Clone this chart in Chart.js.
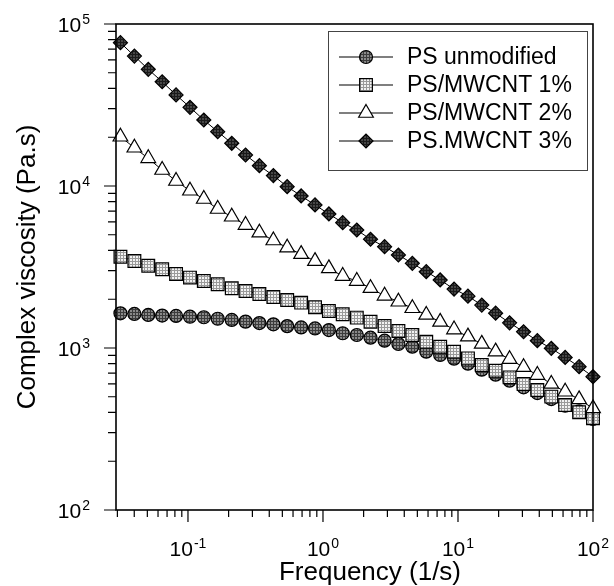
<!DOCTYPE html>
<html>
<head>
<meta charset="utf-8">
<script src="https://cdn.jsdelivr.net/npm/chart.js@4/dist/chart.umd.min.js"></script>
<style>
    html, body { margin: 0; padding: 0; background: #fff; }
    canvas { display: block; }
</style>
</head>
<body>
<canvas id="chart" width="614" height="586"></canvas>
<script>
// ============================================
// Data
// ============================================

const frequency = [
    0.0316, 0.0401, 0.0508, 0.0644, 0.0816, 0.1035, 0.131, 0.166, 0.211, 0.267,
    0.338, 0.429, 0.543, 0.689, 0.873, 1.106, 1.40, 1.78, 2.25, 2.86,
    3.62, 4.59, 5.82, 7.38, 9.35, 11.85, 15.0, 19.0, 24.1, 30.6,
    38.7, 49.1, 62.2, 78.9, 100
];

const psUnmodified = [
    1637, 1622, 1600, 1585, 1577, 1560, 1548, 1515, 1490, 1455,
    1425, 1400, 1365, 1340, 1320, 1290, 1233, 1203, 1158, 1110,
    1059, 1019, 949, 905, 860, 800, 735, 685, 629, 572,
    527, 484, 440, 406, 365
];

const psMwcnt1 = [
    3660, 3445, 3220, 3060, 2860, 2720, 2590, 2475, 2340, 2250,
    2155, 2065, 1980, 1905, 1785, 1692, 1615, 1540, 1453, 1368,
    1274, 1203, 1094, 1019, 949, 863, 785, 724, 659, 600,
    551, 501, 445, 401, 368
];

const psMwcnt2 = [
    20140, 17220, 14820, 12550, 10740, 9350, 8310, 7210, 6460, 5740,
    5150, 4610, 4160, 3800, 3440, 3100, 2780, 2590, 2340, 2100,
    1930, 1760, 1600, 1450, 1300, 1175, 1060, 950, 853, 761,
    681, 600, 537, 482, 424
];

const psMwcnt3 = [
    76700, 63400, 52500, 44000, 36500, 30600, 25560, 21650, 18350, 15540,
    13350, 11590, 9910, 8680, 7640, 6720, 5940, 5350, 4690, 4220,
    3750, 3330, 2960, 2630, 2310, 2090, 1840, 1640, 1430, 1260,
    1110, 995, 875, 767, 665
];

const seriesLabels = ['PS unmodified', 'PS/MWCNT 1%', 'PS/MWCNT 2%', 'PS.MWCNT 3%'];
const xTickExponents = [-1, 0, 1, 2];
const yTickExponents = [2, 3, 4, 5];

const xTitle = 'Frequency (1/s)';
const yTitle = 'Complex viscosity (Pa.s)';

// ============================================
// Marker fills (hatched like the printed figure)
// ============================================

const canvas = document.getElementById('chart');
const ctx = canvas.getContext('2d');
const FONT = '"Liberation Sans", Arial, Helvetica, sans-serif';

function hatch(bg, fg) {
    const tile = document.createElement('canvas');
    tile.width = 3;
    tile.height = 3;
    const g = tile.getContext('2d');
    g.fillStyle = bg;
    g.fillRect(0, 0, 3, 3);
    g.fillStyle = fg;
    g.fillRect(0, 0, 3, 1);
    g.fillRect(0, 0, 1, 3);
    return ctx.createPattern(tile, 'repeat');
}

const markers = [
    { style: 'circle',   radius: 6.5, fill: hatch('#8a8a8a', '#3c3c3c') },
    { style: 'rect',     radius: 9,   fill: hatch('#f2f2f2', '#9a9a9a') },
    { style: 'triangle', radius: 8.5, fill: '#ffffff' },
    { style: 'rectRot',  radius: 7,   fill: hatch('#474747', '#1a1a1a') }
];

function toPoints(values) {
    return values.map((v, i) => ({ x: frequency[i], y: v }));
}

const seriesValues = [psUnmodified, psMwcnt1, psMwcnt2, psMwcnt3];

const datasets = seriesValues.map((values, i) => ({
    label: seriesLabels[i],
    data: toPoints(values),
    borderColor: '#000',
    borderWidth: 1,
    pointStyle: markers[i].style,
    pointRadius: markers[i].radius,
    pointBackgroundColor: markers[i].fill,
    pointBorderColor: '#000',
    pointBorderWidth: 1.2,
    tension: 0,
    clip: false,
    order: seriesValues.length - i
}));

// ============================================
// Axes, ticks, labels, frame and legend
// ============================================

function drawPower(c, exp, x, y, align) {
    const base = '10';
    const sup = String(exp);
    c.font = '21px ' + FONT;
    const bw = c.measureText(base).width;
    c.font = '14px ' + FONT;
    const sw = c.measureText(sup).width;
    const total = bw + sw + 1;
    let left = align === 'right' ? x - total : x - total / 2;
    c.textAlign = 'left';
    c.textBaseline = 'alphabetic';
    c.font = '21px ' + FONT;
    c.fillText(base, left, y);
    c.font = '14px ' + FONT;
    c.fillText(sup, left + bw + 1, y - 8);
}

const figurePlugin = {
    id: 'figure',
    afterDraw(chart) {
        const c = chart.ctx;
        const area = chart.chartArea;
        const xs = chart.scales.x;
        const ys = chart.scales.y;

        c.save();
        c.strokeStyle = '#000';
        c.fillStyle = '#000';

        // frame
        c.lineWidth = 1.6;
        c.strokeRect(area.left, area.top, area.right - area.left, area.bottom - area.top);

        // ticks (outside)
        c.lineWidth = 1.2;
        c.beginPath();
        for (let e = -2; e <= 2; e++) {
            for (let m = 1; m <= 9; m++) {
                const v = m * Math.pow(10, e);
                if (v < xs.min || v > xs.max) continue;
                const px = xs.getPixelForValue(v);
                c.moveTo(px, area.bottom);
                c.lineTo(px, area.bottom + (m === 1 ? 12 : 7));
            }
        }
        for (let e = 2; e <= 5; e++) {
            for (let m = 1; m <= 9; m++) {
                const v = m * Math.pow(10, e);
                if (v < ys.min || v > ys.max) continue;
                const py = ys.getPixelForValue(v);
                c.moveTo(area.left, py);
                c.lineTo(area.left - (m === 1 ? 12 : 8), py);
            }
        }
        c.stroke();

        // tick labels
        yTickExponents.forEach(e => {
            drawPower(c, e, 90, ys.getPixelForValue(Math.pow(10, e)) + 8, 'right');
        });
        xTickExponents.forEach(e => {
            drawPower(c, e, xs.getPixelForValue(Math.pow(10, e)), 556, 'center');
        });

        // axis titles
        c.font = '26px ' + FONT;
        c.textAlign = 'center';
        c.textBaseline = 'alphabetic';
        c.fillText(xTitle, 370, 580);
        c.save();
        c.translate(35, (area.top + area.bottom) / 2);
        c.rotate(-Math.PI / 2);
        c.fillText(yTitle, 0, 0);
        c.restore();

        // legend
        c.lineWidth = 1;
        c.strokeStyle = '#444';
        c.fillStyle = '#fff';
        c.fillRect(328, 31, 259, 139);
        c.strokeRect(328.5, 31.5, 259, 139);
        seriesLabels.forEach((label, i) => {
            const y = 57 + i * 28;
            c.strokeStyle = '#000';
            c.lineWidth = 1.2;
            c.beginPath();
            c.moveTo(339, y);
            c.lineTo(393, y);
            c.stroke();
            c.fillStyle = markers[i].fill;
            Chart.helpers.drawPoint(c, {
                pointStyle: markers[i].style,
                radius: markers[i].radius,
                rotation: 0,
                borderWidth: 1.2
            }, 366, y);
            c.fillStyle = '#000';
            c.font = '23px ' + FONT;
            c.textAlign = 'left';
            c.textBaseline = 'middle';
            c.fillText(label, 407, y + 1);
        });

        c.restore();
    }
};

// ============================================
// Chart
// ============================================

new Chart(ctx, {
    type: 'line',
    data: { datasets },
    options: {
        responsive: false,
        animation: false,
        devicePixelRatio: 1,
        layout: { padding: { top: 24, right: 21, left: 0, bottom: 0 } },
        plugins: {
            legend: { display: false },
            tooltip: { enabled: false }
        },
        scales: {
            x: {
                type: 'logarithmic',
                position: 'bottom',
                min: 0.0293,
                max: 100,
                grid: { display: false },
                border: { display: false },
                ticks: { display: false },
                afterFit(scale) { scale.height = 76; }
            },
            y: {
                type: 'logarithmic',
                min: 100,
                max: 100000,
                grid: { display: false },
                border: { display: false },
                ticks: { display: false },
                afterFit(scale) { scale.width = 116; }
            }
        }
    },
    plugins: [figurePlugin]
});
</script>
</body>
</html>
